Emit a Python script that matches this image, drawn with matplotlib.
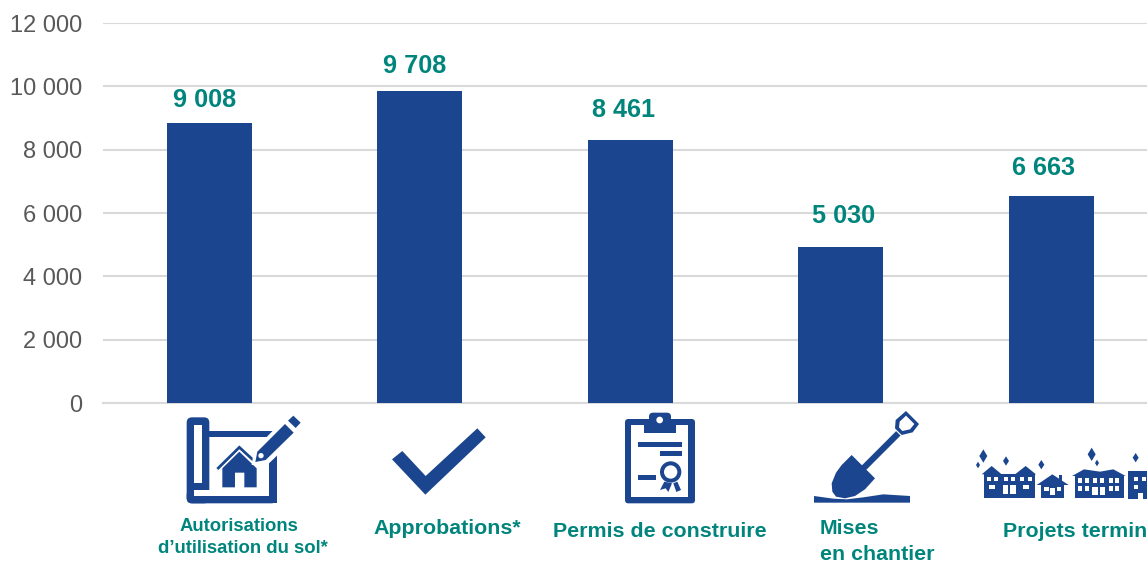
#!/usr/bin/env python3
"""Bar chart of housing project stages, with hand drawn icons under each bar."""
import matplotlib
matplotlib.use("Agg")
import matplotlib.pyplot as plt
from matplotlib.patches import Circle, FancyBboxPatch, Polygon, Rectangle

plt.rcParams['font.family'] = ['Liberation Sans', 'DejaVu Sans']

stages = ["Autorisations d’utilisation du sol*", "Approbations*", "Permis de construire",
          "Mises en chantier", "Projets terminés"]
bar_heights = [8840, 9850, 8300, 4930, 6540]
bar_labels = ["9 008", "9 708", "8 461", "5 030", "6 663"]
y_ticks = [0, 2000, 4000, 6000, 8000, 10000, 12000]
y_tick_labels = ["0", "2 000", "4 000", "6 000", "8 000", "10 000", "12 000"]

BLUE = "#1B468F"
TEAL = "#00857C"
GREY = "#595959"
W, H = 1147, 566


class Icon:

    def __init__(self, ax, x0, y0):
        self.ax, self.x0, self.y0 = ax, x0, y0
        self.z = 2

    def next_z(self):
        # later calls always land on top, lines and patches alike
        self.z += 0.01
        return self.z

    def p(self, x, y):
        return self.x0 + x / 3, self.y0 + y / 3

    def poly(self, pts, color=BLUE):
        self.ax.add_patch(Polygon([self.p(*q) for q in pts], closed=True, fc=color, ec='none',
                                  zorder=self.next_z()))

    def rect(self, x1, y1, x2, y2, color=BLUE):
        self.ax.add_patch(Rectangle(self.p(x1, y1), (x2 - x1) / 3, (y2 - y1) / 3, fc=color, ec='none',
                                    zorder=self.next_z()))

    def rrect(self, x1, y1, x2, y2, r, color=BLUE):
        px, py = self.p(x1 + r, y1 + r)
        self.ax.add_patch(FancyBboxPatch((px, py), (x2 - x1 - 2 * r) / 3, (y2 - y1 - 2 * r) / 3,
                                         boxstyle=f"round,pad={r / 3}", fc=color, ec='none',
                                         zorder=self.next_z()))

    def circle(self, x, y, r, color=BLUE):
        self.ax.add_patch(Circle(self.p(x, y), r / 3, fc=color, ec='none', zorder=self.next_z()))

    def line(self, pts, lw, color=BLUE):
        xy = [self.p(*q) for q in pts]
        self.ax.plot([q[0] for q in xy], [q[1] for q in xy], color=color, lw=lw, solid_capstyle='butt',
                     solid_joinstyle='miter', zorder=self.next_z())

    def star(self, x, y, rx, ry):
        self.poly([(x, y - ry), (x + rx, y), (x, y + ry), (x - rx, y)])


def draw_plan(ax):
    ic = Icon(ax, 150, 400)
    ic.rrect(110, 52, 178, 310, 16)
    ic.rrect(110, 270, 380, 310, 16)
    ic.rect(300, 285, 380, 310)
    ic.rect(132, 75, 157, 250, 'white')
    ic.rect(132, 271, 358, 287, 'white')
    ic.rect(178, 92, 370, 112)
    ic.rect(358, 160, 380, 310)
    ic.poly([(217, 205), (268, 155), (320, 205), (320, 262), (283, 262), (283, 218), (255, 218),
             (255, 262), (217, 262)])
    ic.line([(202, 207), (268, 142), (318, 188)], 2)
    # pencil with a white halo
    ic.poly([(305, 195), (312, 150), (400, 60), (445, 105), (355, 192)], 'white')
    ic.poly([(316, 186), (322, 155), (405, 72), (431, 98), (347, 180)])
    ic.circle(333, 167, 8, 'white')
    ic.poly([(414, 62), (430, 47), (452, 68), (437, 84)])


def draw_check(ax):
    ic = Icon(ax, 150, 400)
    ic.poly([(726, 178), (757, 153), (827, 228), (982, 85), (1007, 112), (826, 284)])


def draw_permit(ax):
    ic = Icon(ax, 600, 400)
    ic.rrect(75, 57, 285, 310, 10)
    ic.rect(93, 75, 265, 290, 'white')
    ic.rect(132, 60, 228, 98)
    ic.rrect(147, 38, 213, 70, 12)
    ic.circle(179, 60, 10, 'white')
    ic.rect(114, 126, 246, 141)
    ic.rect(180, 153, 246, 168)
    ic.rect(114, 225, 168, 240)
    ic.poly([(193, 245), (180, 270), (197, 265), (205, 276), (216, 250)])
    ic.poly([(220, 250), (229, 276), (243, 270), (232, 245)])
    ic.circle(212, 216, 32)
    ic.circle(212, 216, 20, 'white')


def draw_shovel(ax):
    ic = Icon(ax, 600, 400)
    ic.poly([(642, 288), (700, 296), (740, 298), (790, 292), (850, 283), (930, 288), (930, 308), (642, 308)])
    ic.poly([(755, 165), (825, 235), (795, 268), (765, 288), (735, 295), (708, 290), (697, 275), (695, 250),
             (708, 218), (725, 195)])
    ic.line([(790, 205), (895, 100)], 4.5)
    ic.poly([(918, 33), (957, 72), (938, 97), (905, 105), (885, 85), (887, 60)])
    ic.poly([(918, 47), (943, 72), (930, 88), (907, 93), (897, 82), (899, 65)], 'white')


def draw_houses(ax):
    ic = Icon(ax, 960, 430)
    for star in [(70, 78, 12, 20), (54, 105, 6, 10), (138, 93, 9, 14), (244, 104, 9, 14), (395, 73, 12, 20),
                 (411, 99, 6, 10), (527, 83, 9, 14)]:
        ic.star(*star)
    # row house
    ic.rect(72, 132, 224, 205)
    ic.poly([(65, 133), (95, 108), (125, 133)])
    ic.poly([(165, 133), (197, 108), (228, 133)])
    for x in [80, 102, 131, 153, 181, 203]:
        ic.rect(x, 140, x + 12, 153, 'white')
    for x in [88, 188]:
        ic.rect(x, 164, x + 18, 177, 'white')
    for x in [128, 151]:
        ic.rect(x, 164, x + 16, 193, 'white')
    # small house
    ic.rect(244, 160, 313, 205)
    ic.rect(296, 135, 305, 155)
    ic.poly([(230, 165), (277, 133), (326, 165)])
    ic.rect(271, 175, 284, 195, 'white')
    ic.rect(252, 171, 267, 183, 'white')
    ic.rect(290, 171, 304, 183, 'white')
    # long house
    ic.rect(345, 135, 492, 205)
    ic.poly([(336, 138), (372, 118), (420, 125), (460, 118), (497, 138)])
    for x in [355, 375, 400, 421, 446, 466]:
        ic.rect(x, 143, x + 12, 160, 'white')
    for x in [355, 375, 446, 466]:
        ic.rect(x, 167, x + 12, 184, 'white')
    for x in [397, 419]:
        ic.rect(x, 172, x + 16, 196, 'white')
    # block cut by the right edge
    ic.rect(505, 123, 600, 207)
    for x in [523, 547]:
        ic.rect(x, 140, x + 12, 153, 'white')
    ic.rect(523, 165, 535, 178, 'white')
    ic.rect(535, 190, 548, 207, 'white')


def main():
    fig = plt.figure(figsize=(W / 100, H / 100), dpi=100)
    ax = fig.add_axes([103 / W, 1 - 403 / H, 1 - 103 / W, 380 / H])

    xs = range(len(stages))
    ax.bar(xs, bar_heights, width=85 / 210.6, color=BLUE, zorder=3)
    ax.set_xlim(-(209 - 103) / 210.6, (W - 209) / 210.6)
    ax.set_ylim(0, 12000)
    ax.set_yticks(y_ticks, y_tick_labels, fontsize=17, color=GREY)
    ax.set_xticks([])
    ax.grid(axis='y', color='#D9D9D9', lw=1.5, zorder=0)
    ax.tick_params(axis='y', length=0, pad=15)
    for side in ['top', 'right', 'left']:
        ax.spines[side].set_visible(False)
    ax.spines['bottom'].set_color('#D9D9D9')
    ax.spines['bottom'].set_linewidth(1.5)

    # labels do not follow the bars exactly in the original, pixels off the bar top
    label_dx = [-4, -5, -7, 3, -8]
    label_gaps = [16, 18, 23, 24, 21]
    for x, height, label, dx, gap in zip(xs, bar_heights, bar_labels, label_dx, label_gaps):
        ax.annotate(label, (x, height), xytext=(dx * 0.72, gap * 0.72), textcoords='offset points', ha='center',
                    va='baseline', fontsize=18.2, fontweight='bold', color=TEAL)

    # overlay in picture pixels for the icons and the category names
    over = fig.add_axes([0, 0, 1, 1], facecolor='none')
    over.set_xlim(0, W)
    over.set_ylim(H, 0)
    over.axis('off')
    draw_plan(over)
    draw_check(over)
    draw_permit(over)
    draw_shovel(over)
    draw_houses(over)
    over.set_xlim(0, W)
    over.set_ylim(H, 0)

    bold = dict(fontweight='bold', color=TEAL, va='baseline')
    over.text(238.5, 531, "Autorisations", ha='center', fontsize=13.3, **bold)
    over.text(243, 553, "d’utilisation du sol*", ha='center', fontsize=13.3, **bold)
    over.text(373, 534, stages[1], ha='left', fontsize=15.4, **bold)
    over.text(553, 537, stages[2], ha='left', fontsize=15.4, **bold)
    over.text(820, 534, "Mises", ha='left', fontsize=15.4, **bold)
    over.text(820, 560, "en chantier", ha='left', fontsize=15.4, **bold)
    over.text(1003, 537, stages[4], ha='left', fontsize=15.4, **bold)

    fig.savefig("out.png", dpi=100)


if __name__ == "__main__":
    main()
